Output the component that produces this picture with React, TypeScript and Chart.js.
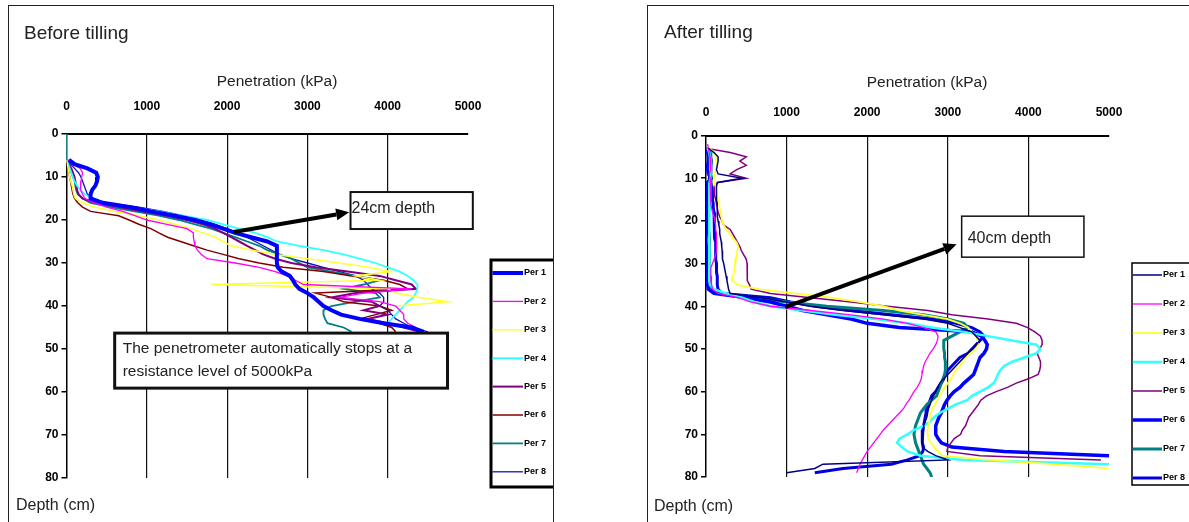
import React, { useEffect, useRef } from 'react';
import { Chart, registerables } from 'chart.js';

Chart.register(...registerables);

const FONT = '"Liberation Sans", Arial, sans-serif';

const SERIES_LABELS = ['Per 1', 'Per 2', 'Per 3', 'Per 4', 'Per 5', 'Per 6', 'Per 7', 'Per 8'];

// ---------- Before tilling (depth in cm, penetration in kPa) ----------
const DEPTH_BEFORE = [
  0, 1, 2, 3, 4, 5, 6, 7, 8, 9,
  10, 11, 12, 13, 14, 15, 16, 17, 18, 19,
  20, 21, 22, 23, 24, 25, 26, 27, 28, 29,
  30, 31, 32, 33, 34, 35, 36, 37, 38, 39,
  40, 41, 42, 43, 44, 45, 46,
];
const N6 = [null, null, null, null, null, null];
const BEFORE_P1 = [...N6,
  30, 100, 260, 370, 390, 380, 360, 320, 300, 300,
  450, 800, 1050, 1350, 1600, 1800, 1950, 2100, 2300, 2500,
  2620, 2620, 2620, 2620, 2620, 2630, 2680, 2780, 2820, 2850,
  2900, 3000, 3080, 3140, 3200, 3300, 3420, 3650, 3950, 4300,
  4450];
const BEFORE_P2 = [...N6,
  20, 80, 170, 200, 190, 180, 170, 180, 200, 230,
  350, 500, 700, 850, 1000, 1250, 1500, 1580, 1580, 1590,
  1600, 1630, 1680, 1750, 2100, 2400, 2600, 2750, 2850, 2950,
  4300, 3700, 3400, 3900, 4100, 4150, 4200, 4200, 4250, 4350,
  4400];
const BEFORE_P3 = [...N6,
  0, 10, 20, 30, 40, 50, 70, 80, 90, 110,
  200, 350, 600, 900, 1150, 1350, 1550, 1700, 1850, 1950,
  2050, 2300, 2600, 3000, 3400, 3750, 4050, 3600, 3900, 1800,
  4000, 4100, 4400, 4750, 4100];
const BEFORE_P4 = [0, 0, 0, 0, 0, 0, 0,
  20, 40, 60, 80, 100, 130, 170, 230, 320, 500,
  800, 1150, 1450, 1750, 1950, 2150, 2350, 2500, 2620, 2900,
  3200, 3450, 3650, 3850, 4000, 4150, 4250, 4320, 4370, 4370,
  4350, 4320, 4250, 4200, 4150, 4100, 4050, 4000];
const BEFORE_P5 = [...N6,
  0, 30, 60, 80, 100, 110, 120, 130, 150, 200,
  350, 650, 950, 1250, 1500, 1700, 1850, 1950, 2050, 2150,
  2250, 2350, 2450, 2600, 2800, 3100, 3500, 3900, 4100, 4300,
  4350, 3600, 3300, 3800, 3900, 3700, 4000, 3750, 4000, 4200,
  4400];
const BEFORE_P6 = [...N6,
  0, 10, 20, 30, 40, 50, 60, 70, 80, 100,
  140, 200, 300, 650, 780, 900, 1050, 1150, 1260, 1420,
  1580, 1750, 1950, 2150, 2400, 2700, 3200, 3550, 3950, 4150,
  4250, 3100, 3300, 3450, 3900, 4050, 3850, 3650, 3900, 4050,
  4100];
const BEFORE_P7 = [...N6,
  0, 20, 40, 60, 80, 100, 110, 120, 140, 200,
  300, 550, 850, 1150, 1400, 1600, 1800, 1950, 2100, 2250,
  2400, 2500, 2650, 2800, 2900, 3000, 3300, 3600, 3900, 3700,
  3450, 3850, 3900, 3600, 3300, 3200, 3200, 3220, 3250, 3450,
  3550];
const BEFORE_P8 = [...N6,
  10, 50, 100, 150, 180, 200, 220, 240, 260, 320,
  500, 900, 1200, 1450, 1650, 1850, 2000, 2150, 2250, 2350,
  2450, 2550, 2650, 2800, 3000, 3200, 3400, 3600, 3700, 3750,
  3800, 3900, 3950, 3950, 3900, 4000, 4050, 4100, 4200, 4300,
  4500];

// ---------- After tilling ----------
const DEPTH_AFTER = [
  0, 1, 2, 3, 4, 5, 6, 7, 8, 9,
  10, 11, 12, 13, 14, 15, 16, 17, 18, 19,
  20, 21, 22, 23, 24, 25, 26, 27, 28, 29,
  30, 31, 32, 33, 34, 35, 36, 37, 38, 39,
  40, 41, 42, 43, 44, 45, 46, 47, 48, 49,
  50, 51, 52, 53, 54, 55, 56, 57, 58, 59,
  60, 61, 62, 63, 64, 65, 66, 67, 68, 69,
  70, 71, 72, 73, 74, 75, 76, 77, 78, 79,
  80,
];
const AFTER_P1 = [
  null, null, null, 30, 100, 150, 150, 140, 130, 150,
  450, 140, 130, 130, 130, 130, 140, 140, 140, 140,
  150, 160, 170, 170, 180, 190, 195, 200, 200, 210,
  220, 230, 240, 250, 260, 270, 280, 300, 700, 1000,
  1300, 1700, 2200, 2700, 3000, 3150, 3300, 3350, 3400, 3350,
  3300, 3250, 3200, 3150, 3100, 3050, 3000, 2950, 2900, 2880,
  2850, 2820, 2800, 2780, 2760, 2750, 2740, 2720, 2700, 2700,
  2690, 2680, 2680, 2690, 2750, 2850, 3000, 1450, 1350, 1000,
  null];
const AFTER_P2 = [
  null, null, 20, 30, 40, 50, 60, 60, 50, 40,
  50, 60, 60, 60, 60, 60, 60, 70, 80, 100,
  110, 120, 120, 130, 130, 130, 130, 130, 120, 100,
  80, 60, 60, 60, 60, 70, 80, 150, 400, 550,
  800, 1300, 1800, 2200, 2500, 2700, 2850, 2880, 2870, 2850,
  2820, 2780, 2750, 2720, 2700, 2690, 2680, 2670, 2650, 2620,
  2580, 2550, 2520, 2480, 2450, 2400, 2350, 2300, 2250, 2200,
  2160, 2120, 2080, 2040, 2000, 1970, 1940, 1910, 1890, 1870,
  null];
const AFTER_P3 = [
  null, null, null, 50, 100, 120, 130, 130, 120, 110,
  100, 110, 120, 130, 140, 150, 160, 170, 180, 190,
  200, 220, 250, 300, 330, 380, 400, 390, 380, 370,
  360, 360, 350, 330, 320, 400, 650, 1100, 1550, 1900,
  2200, 2400, 2700, 3000, 3150, 3250, 3300, 3350, 3370, 3380,
  3350, 3280, 3220, 3180, 3150, 3100, 3070, 3040, 3000, 2960,
  2930, 2900, 2870, 2840, 2810, 2790, 2780, 2770, 2760, 2750,
  2750, 2760, 2790, 2830, 2880, 2930, 3500, 4300, 5000, null,
  null];
const AFTER_P4 = [
  null, null, null, 20, 40, 50, 60, 60, 50, 50,
  50, 45, 40, 40, 40, 40, 40, 45, 45, 40,
  40, 40, 40, 40, 35, 35, 40, 40, 40, 40,
  40, 40, 40, 40, 40, 50, 100, 250, 450, 600,
  800, 1200, 1600, 2100, 2500, 2800, 3200, 3500, 3800, 4100,
  4150, 4100, 3950, 3800, 3700, 3650, 3620, 3600, 3570, 3500,
  3400, 3300, 3240, 3100, 3000, 2900, 2830, 2780, 2700, 2580,
  2500, 2400, 2370, 2430, 2500, 2660, 3200, 5000, null, null,
  null];
const AFTER_P5 = [
  null, null, null, 0, 300, 500, 420, 500, 380, 300,
  500, 150, 100, 100, 110, 120, 130, 140, 150, 170,
  200, 220, 300, 330, 360, 390, 420, 440, 470, 500,
  510, 510, 510, 510, 520, 540, 560, 800, 1300, 1800,
  2250, 2750, 3050, 3500, 3850, 3990, 4080, 4150, 4170, 4170,
  4140, 4110, 4130, 4150, 4150, 4140, 4120, 4000, 3850, 3740,
  3600, 3480, 3410, 3380, 3340, 3300, 3260, 3240, 3220, 3180,
  3160, 3080, 3040, 3000, 2990, 3400, 4900, null, null, null,
  null];
const AFTER_P6 = [
  null, null, null, 20, 30, 30, 30, 20, 20, 30,
  60, 20, 20, 20, 20, 20, 20, 20, 20, 20,
  20, 20, 20, 20, 20, 20, 20, 20, 20, 20,
  20, 20, 20, 20, 20, 20, 30, 100, 500, 800,
  1000, 1200, 1500, 1800, 2000, 2400, 3300, 3420, 3460, 3490,
  3480, 3450, 3400, 3380, 3360, 3340, 3320, 3260, 3200, 3150,
  3080, 3030, 2990, 2960, 2940, 2920, 2890, 2870, 2850, 2850,
  2850, 2880, 2920, 3050, 3700, 5000, null, null, null, null,
  null];
const AFTER_P7 = [
  null, null, null, 30, 50, 60, 70, 60, 50, 60,
  70, 60, 50, 50, 50, 50, 40, 40, 30, 30,
  30, 30, 30, 40, 40, 40, 40, 40, 40, 40,
  40, 40, 40, 50, 50, 60, 60, 200, 600, 1000,
  1500, 2200, 2700, 3000, 3200, 3250, 3150, 3050, 2950, 2950,
  2950, 2960, 2960, 2970, 2970, 2970, 2960, 2940, 2920, 2900,
  2880, 2860, 2800, 2740, 2700, 2660, 2640, 2620, 2600, 2590,
  2580, 2590, 2600, 2620, 2640, 2660, 2680, 2700, 2740, 2780,
  2800];
const AFTER_P8 = [
  null, null, null, 10, 20, 30, 50, 60, 60, 60,
  40, 60, 70, 80, 80, 80, 90, 90, 100, 100,
  100, 100, 110, 110, 110, 120, 120, 120, 120, 120,
  130, 130, 130, 140, 140, 140, 150, 200, 800, 1050,
  1350, 1800, 2300, 2800, 3100, 3300, 3400, 3450, 3400, 3350,
  3300, 3250, 3150, 3100, 3050, 3000, 2970, 2950, 2920, 2880,
  2850, 2800, 2780, 2760, 2740, 2730, 2720, 2710, 2700, 2690,
  2680, 2680, 2690, 2700, 2690, 2650, 2500, 2300, 1700, 1350,
  null];

const BEFORE_SERIES = [BEFORE_P1, BEFORE_P2, BEFORE_P3, BEFORE_P4, BEFORE_P5, BEFORE_P6, BEFORE_P7, BEFORE_P8];
const AFTER_SERIES = [AFTER_P1, AFTER_P2, AFTER_P3, AFTER_P4, AFTER_P5, AFTER_P6, AFTER_P7, AFTER_P8];

// line styles
const BEFORE_COLORS = ['#0000FF', '#FF00FF', '#FFFF33', '#33FFFF', '#800080', '#800000', '#008080', '#1010C0'];
const BEFORE_WIDTHS = [4, 1.3, 1.5, 1.8, 2, 1.5, 1.8, 1.3];
const AFTER_COLORS = ['#000080', '#FF00FF', '#FFFF33', '#33FFFF', '#800080', '#0000FF', '#008080', '#0000E0'];
const AFTER_WIDTHS = [1.5, 1.3, 1.8, 2.5, 1.5, 3.5, 3, 3];

type Box = { x1: number; y1: number; x2: number; y2: number; lines: string[]; size: number; border: number; textX: number; firstLine: number; lineGap: number };
type Arrow = { x1: number; y1: number; x2: number; y2: number; width: number };

function makeNotesPlugin(arrows: Arrow[], boxes: Box[]) {
  return {
    id: 'notes',
    afterDraw(chart: any) {
      const { ctx } = chart;
      const X = chart.scales.x;
      const Y = chart.scales.y;
      ctx.save();
      for (const a of arrows) {
        const p1x = X.getPixelForValue(a.x1);
        const p1y = Y.getPixelForValue(a.y1);
        const p2x = X.getPixelForValue(a.x2);
        const p2y = Y.getPixelForValue(a.y2);
        const ang = Math.atan2(p2y - p1y, p2x - p1x);
        const head = 13;
        const hw = 6;
        const bx = p2x - Math.cos(ang) * head;
        const by = p2y - Math.sin(ang) * head;
        ctx.strokeStyle = '#000';
        ctx.lineWidth = a.width;
        ctx.beginPath();
        ctx.moveTo(p1x, p1y);
        ctx.lineTo(bx, by);
        ctx.stroke();
        ctx.fillStyle = '#000';
        ctx.beginPath();
        ctx.moveTo(p2x, p2y);
        ctx.lineTo(bx - Math.sin(ang) * hw, by + Math.cos(ang) * hw);
        ctx.lineTo(bx + Math.sin(ang) * hw, by - Math.cos(ang) * hw);
        ctx.closePath();
        ctx.fill();
      }
      for (const b of boxes) {
        const l = X.getPixelForValue(b.x1);
        const r = X.getPixelForValue(b.x2);
        const t = Y.getPixelForValue(b.y1);
        const bt = Y.getPixelForValue(b.y2);
        ctx.fillStyle = '#fff';
        ctx.fillRect(l, t, r - l, bt - t);
        ctx.strokeStyle = '#111';
        ctx.lineWidth = b.border;
        ctx.strokeRect(l, t, r - l, bt - t);
        ctx.fillStyle = '#222';
        ctx.font = `${b.size}px ${FONT}`;
        ctx.textBaseline = 'middle';
        ctx.textAlign = 'left';
        b.lines.forEach((line, i) => {
          ctx.fillText(line, l + b.textX, t + b.firstLine + i * b.lineGap);
        });
      }
      ctx.restore();
    },
  };
}

function makeLegendPlugin(left: number, top: number, bottom: number, firstRow: number, rowGap: number, lineEnd: number, border: number) {
  return {
    id: 'boxLegend',
    afterDraw(chart: any) {
      const { ctx } = chart;
      const right = chart.width + 10;
      ctx.save();
      ctx.fillStyle = '#fff';
      ctx.fillRect(left, top, right - left, bottom - top);
      ctx.strokeStyle = '#000';
      ctx.lineWidth = border;
      ctx.beginPath();
      ctx.moveTo(right, top);
      ctx.lineTo(left, top);
      ctx.lineTo(left, bottom);
      ctx.lineTo(right, bottom);
      ctx.stroke();
      chart.data.datasets.forEach((ds: any, i: number) => {
        const y = firstRow + i * rowGap;
        ctx.strokeStyle = ds.borderColor;
        ctx.lineWidth = ds.borderWidth;
        ctx.beginPath();
        ctx.moveTo(left + border / 2, y);
        ctx.lineTo(lineEnd, y);
        ctx.stroke();
        ctx.fillStyle = '#000';
        ctx.font = `bold 9px ${FONT}`;
        ctx.textBaseline = 'middle';
        ctx.textAlign = 'left';
        ctx.fillText(ds.label, lineEnd + 1, y);
      });
      ctx.restore();
    },
  };
}

type PanelCfg = {
  depths: number[];
  series: (number | null)[][];
  colors: string[];
  widths: number[];
  yWidth: number;
  xHeight: number;
  padRight: number;
  padBottom: number;
  tickPad: number;
  plugins: any[];
};

function buildChart(canvas: HTMLCanvasElement, cfg: PanelCfg) {
  const datasets = cfg.series.map((vals, i) => ({
    label: SERIES_LABELS[i],
    data: cfg.depths
      .map((d, k) => (vals[k] === null || vals[k] === undefined ? null : { x: vals[k] as number, y: d }))
      .filter((p) => p !== null),
    borderColor: cfg.colors[i],
    backgroundColor: cfg.colors[i],
    borderWidth: cfg.widths[i],
    showLine: true,
    pointRadius: 0,
    tension: 0,
    fill: false,
  }));
  const tickFont = { family: FONT, size: 12, weight: 'bold' as const };
  return new Chart(canvas, {
    type: 'scatter',
    data: { datasets },
    options: {
      animation: false,
      responsive: false,
      events: [],
      layout: { padding: { left: 0, top: 0, right: cfg.padRight, bottom: cfg.padBottom } },
      plugins: { legend: { display: false }, tooltip: { enabled: false }, title: { display: false } },
      scales: {
        x: {
          type: 'linear',
          position: 'top',
          min: 0,
          max: 5000,
          ticks: { stepSize: 1000, font: tickFont, color: '#000', padding: cfg.tickPad, maxRotation: 0, callback: (v: any) => String(v) },
          grid: {
            drawTicks: false,
            lineWidth: 1.2,
            color: (c: any) => (c.tick && (c.tick.value === 0 || c.tick.value === 5000) ? 'rgba(0,0,0,0)' : '#111'),
          },
          border: { display: true, color: '#000', width: 2 },
          afterFit: (s: any) => { s.height = cfg.xHeight; },
        },
        y: {
          type: 'linear',
          reverse: true,
          min: 0,
          max: 80,
          ticks: { stepSize: 10, font: tickFont, color: '#000', padding: 3, callback: (v: any) => String(v) },
          grid: { drawOnChartArea: false, drawTicks: true, tickLength: 5, color: '#000', lineWidth: 1.5 },
          border: { display: true, color: '#000', width: 1.5 },
          afterFit: (s: any) => { s.width = cfg.yWidth; },
        },
      },
    },
    plugins: cfg.plugins,
  });
}

export default function App() {
  const leftRef = useRef<HTMLCanvasElement>(null);
  const rightRef = useRef<HTMLCanvasElement>(null);

  useEffect(() => {
    const left = buildChart(leftRef.current!, {
      depths: DEPTH_BEFORE,
      series: BEFORE_SERIES,
      colors: BEFORE_COLORS,
      widths: BEFORE_WIDTHS,
      yWidth: 57.5,
      xHeight: 128,
      padRight: 85,
      padBottom: 44,
      tickPad: 20,
      plugins: [
        makeNotesPlugin(
          [{ x1: 2080, y1: 22.8, x2: 3520, y2: 18.2, width: 4 }],
          [
            { x1: 3537, y1: 13.5, x2: 5060, y2: 22.1, lines: ['24cm depth'], size: 16, border: 2, textX: 1, firstLine: 17, lineGap: 0 },
            { x1: 600, y1: 46.3, x2: 4745, y2: 59.1, lines: ['The penetrometer automatically stops at a', 'resistance level of 5000kPa'], size: 15.5, border: 3, textX: 8, firstLine: 16, lineGap: 23 },
          ],
        ),
        makeLegendPlugin(482, 254, 481, 267, 28.4, 514, 3),
      ],
    });
    const right = buildChart(rightRef.current!, {
      depths: DEPTH_AFTER,
      series: AFTER_SERIES,
      colors: AFTER_COLORS,
      widths: AFTER_WIDTHS,
      yWidth: 58,
      xHeight: 129.5,
      padRight: 80,
      padBottom: 45,
      tickPad: 16,
      plugins: [
        makeNotesPlugin(
          [{ x1: 983, y1: 40.2, x2: 3109, y2: 25.5, width: 4 }],
          [
            { x1: 3172, y1: 18.9, x2: 4689, y2: 28.5, lines: ['40cm depth'], size: 16, border: 1.5, textX: 6, firstLine: 22, lineGap: 0 },
          ],
        ),
        makeLegendPlugin(484, 257, 479, 269, 29, 514, 1.5),
      ],
    });
    return () => {
      left.destroy();
      right.destroy();
    };
  }, []);

  const text = (s: string, left: number, top: number, size: number, extra: React.CSSProperties = {}) => (
    <div style={{ position: 'absolute', left, top, fontSize: size, lineHeight: `${size + 4}px`, color: '#222', whiteSpace: 'nowrap', ...extra }}>{s}</div>
  );

  return (
    <div style={{ position: 'fixed', left: 0, top: 0, width: 1189, height: 522, overflow: 'hidden', background: '#fff', fontFamily: FONT }}>
      <div style={{ position: 'absolute', left: 8, top: 5, width: 546, height: 600, border: '1px solid #222', boxSizing: 'border-box' }}>
        <canvas ref={leftRef} width={544} height={516} style={{ position: 'absolute', left: 0, top: 0, width: 544, height: 516 }} />
      </div>
      <div style={{ position: 'absolute', left: 647, top: 5, width: 600, height: 600, border: '1px solid #222', boxSizing: 'border-box' }}>
        <canvas ref={rightRef} width={541} height={516} style={{ position: 'absolute', left: 0, top: 0, width: 541, height: 516 }} />
      </div>
      {text('Before tilling', 24, 21, 19)}
      {text('After tilling', 664, 20, 19)}
      {text('Penetration (kPa)', 177, 71, 15.5, { width: 200, textAlign: 'center' })}
      {text('Penetration (kPa)', 827, 72, 15.5, { width: 200, textAlign: 'center' })}
      {text('Depth (cm)', 16, 495, 16)}
      {text('Depth (cm)', 654, 496, 16)}
    </div>
  );
}
